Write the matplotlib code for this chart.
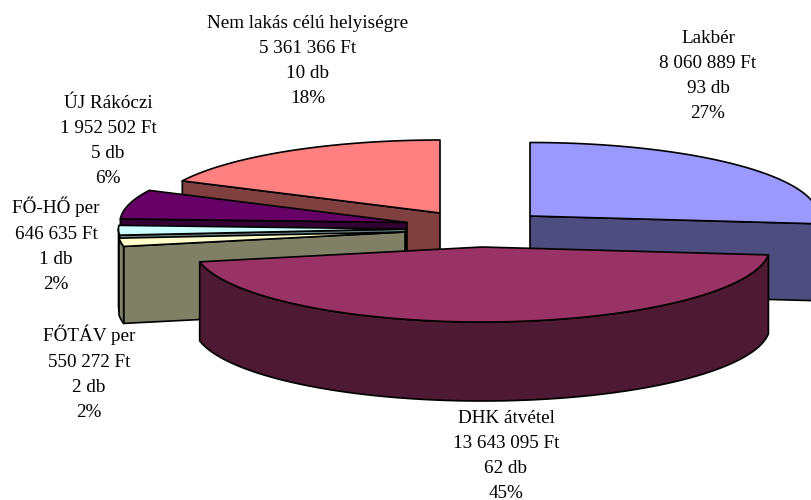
import numpy as np
import matplotlib
matplotlib.use('Agg')
import matplotlib.pyplot as plt
from matplotlib.patches import Polygon

# Chart data
categories = ['Lakbér', 'DHK átvétel', 'FŐTÁV per', 'FŐ-HŐ per', 'ÚJ Rákóczi', 'Nem lakás célú helyiségre']
amounts = [8060889, 13643095, 550272, 646635, 1952502, 5361366]
counts = [93, 62, 2, 1, 5, 10]
percents = [27, 45, 2, 2, 6, 18]

# Colours (top, side)
top_colors = ['#9999FF', '#993366', '#FFFFCC', '#CCFFFF', '#660066', '#FF8080']
side_colors = ['#4D4D80', '#4D1933', '#808066', '#668080', '#330033', '#804040']

# Exploded slice geometry in pixels: apex x, apex y, x radius, y radius, depth
slice_geom = [
    (530, 216, 288, 73.5, 77),
    (482, 247, 288, 75, 79),
    (405, 232, 287, 73, 77),
    (405.5, 229, 287, 73, 77),
    (407, 222.5, 287, 73, 77),
    (440, 213, 287, 73, 77),
]
label_pos = [(708, 76), (506, 456), (89, 373), (56, 245), (108, 141), (308, 61)]
draw_order = [5, 4, 3, 2, 0, 1]

plt.rcParams['font.family'] = ['Liberation Serif', 'DejaVu Serif']

fig = plt.figure(figsize=(8.11, 5.0), dpi=100)
ax = fig.add_axes([0, 0, 1, 1])
ax.set_xlim(0, 811)
ax.set_ylim(500, 0)
ax.axis('off')

# Slice angles, clockwise from 12 o'clock
shares = np.array(amounts) / sum(amounts) * 360
ends = np.cumsum(shares)
starts = ends - shares


def point(geom, deg):
    cx, cy, rx, ry, _ = geom
    rad = np.radians(deg)
    return cx + rx * np.sin(rad), cy - ry * np.cos(rad)


def arc(geom, a0, a1):
    rad = np.radians(np.linspace(a0, a1, max(int(abs(a1 - a0)) * 2, 4)))
    cx, cy, rx, ry, _ = geom
    return np.column_stack([cx + rx * np.sin(rad), cy - ry * np.cos(rad)])


def add_poly(pts, color, z):
    ax.add_patch(Polygon(pts, closed=True, facecolor=color, edgecolor='black',
                         linewidth=1.2, joinstyle='round', zorder=z))


for z, i in enumerate(draw_order):
    geom = slice_geom[i]
    a0, a1 = starts[i], ends[i]
    apex = np.array(geom[:2])
    drop = np.array([0, geom[4]])
    base = z * 10

    # Cut faces that look towards the viewer
    for deg, show in ((a1, a1 < 180), (a0, a0 > 180)):
        if show:
            edge = np.array(point(geom, deg))
            add_poly([apex, edge, edge + drop, apex + drop], side_colors[i], base + 1)

    # Outer rim, front half only
    r0, r1 = max(a0, 90), min(a1, 270)
    if r1 > r0:
        rim = arc(geom, r0, r1)
        add_poly(np.vstack([rim, (rim + drop)[::-1]]), side_colors[i], base + 2)

    # Top face
    add_poly(np.vstack([apex, arc(geom, a0, a1)]), top_colors[i], base + 3)

# Labels
for name, amount, count, pct, (x, y) in zip(categories, amounts, counts, percents, label_pos):
    amount_text = f'{amount:,}'.replace(',', ' ')
    ax.text(x, y, f'{name}\n{amount_text} Ft\n{count} db\n{pct}%', ha='center', va='center',
            fontsize=13.8, linespacing=1.63, color='black', zorder=200)

fig.savefig('out.png', dpi=100)
